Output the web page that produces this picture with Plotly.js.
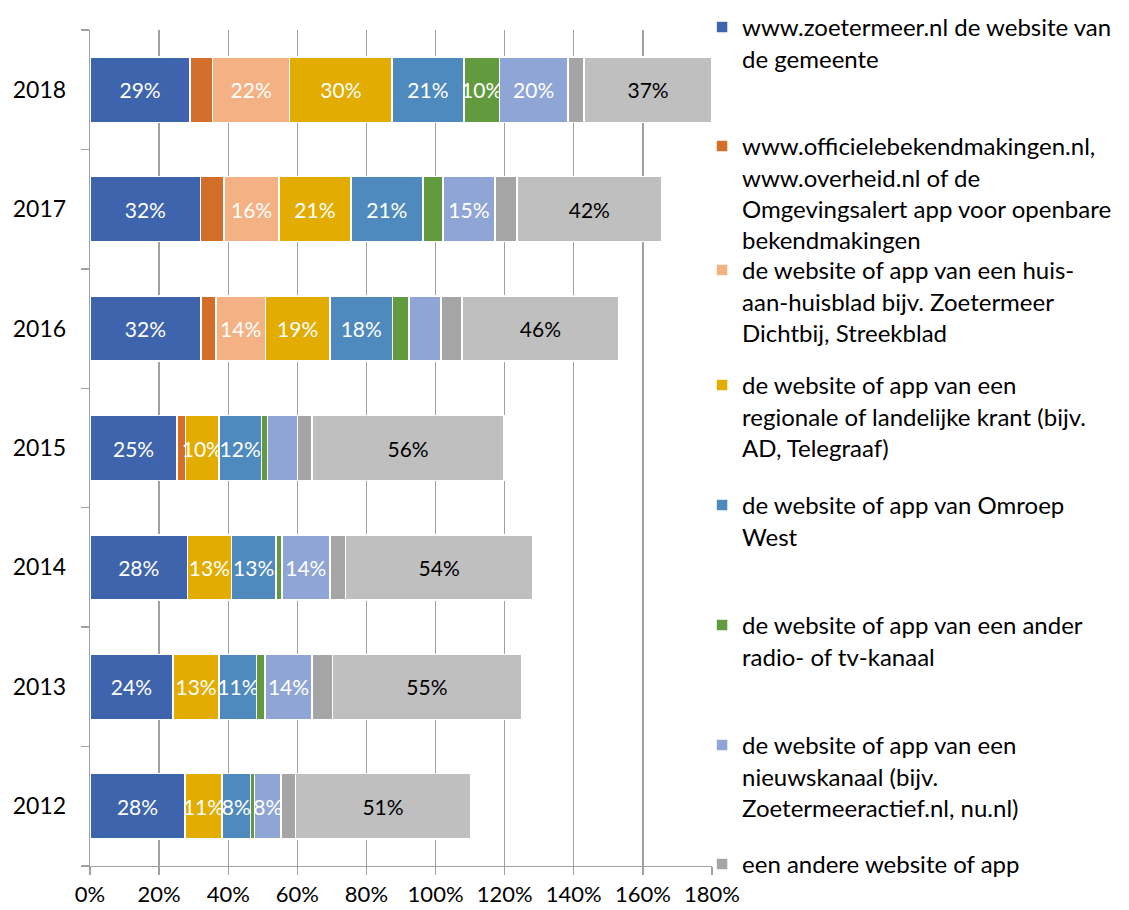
<!DOCTYPE html>
<html>
<head>
<meta charset="utf-8">
<script src="https://cdn.plot.ly/plotly-3.0.1.min.js"></script>
<style>html,body{margin:0;padding:0;background:#fff;}#chart{width:1129px;height:910px;}</style>
</head>
<body>
<div id="chart"></div>
<script>
// Categories (bottom to top)
const years = ['2012', '2013', '2014', '2015', '2016', '2017', '2018'];

// Series names (legend text)
const seriesNames = [
  'www.zoetermeer.nl de website van<br>de gemeente',
  'www.officielebekendmakingen.nl,<br>www.overheid.nl of de<br>Omgevingsalert app voor openbare<br>bekendmakingen',
  'de website of app van een huis-<br>aan-huisblad bijv. Zoetermeer<br>Dichtbij, Streekblad',
  'de website of app van een<br>regionale of landelijke krant (bijv.<br>AD, Telegraaf)',
  'de website of app van Omroep<br>West',
  'de website of app van een ander<br>radio- of tv-kanaal',
  'de website of app van een<br>nieuwskanaal (bijv.<br>Zoetermeeractief.nl, nu.nl)',
  'een andere website of app',
  'overig'
];

// Values in % (2012 ... 2018)
const zoetermeer     = [27.5, 24.0, 28.2, 25.2, 32.1, 32.0, 29.0];
const officieel      = [0, 0, 0, 2.5, 4.3, 6.8, 6.5];
const huisAanHuis    = [0, 0, 0, 0, 14.4, 15.9, 22.3];
const krant          = [10.7, 13.4, 12.7, 9.6, 18.6, 20.8, 29.6];
const omroepWest     = [8.3, 10.8, 12.9, 12.3, 18.2, 20.8, 20.8];
const anderRadioTv   = [1.1, 2.4, 1.7, 1.8, 4.7, 5.8, 10.3];
const nieuwskanaal   = [7.7, 13.7, 13.9, 8.7, 9.3, 15.1, 19.8];
const andereWebsite  = [4.2, 5.9, 4.6, 4.2, 6.0, 6.3, 4.7];
const overig         = [50.6, 54.6, 54.1, 55.5, 45.5, 42.0, 37.0];

// Which values carry a data label (1 = shown), 2012 ... 2018
const lblZoetermeer    = [1, 1, 1, 1, 1, 1, 1];
const lblOfficieel     = [0, 0, 0, 0, 0, 0, 0];
const lblHuisAanHuis   = [0, 0, 0, 0, 1, 1, 1];
const lblKrant         = [1, 1, 1, 1, 1, 1, 1];
const lblOmroepWest    = [1, 1, 1, 1, 1, 1, 1];
const lblAnderRadioTv  = [0, 0, 0, 0, 0, 0, 1];
const lblNieuwskanaal  = [1, 1, 1, 0, 0, 1, 1];
const lblAndereWebsite = [0, 0, 0, 0, 0, 0, 0];
const lblOverig        = [1, 1, 1, 1, 1, 1, 1];

const seriesValues = [zoetermeer, officieel, huisAanHuis, krant, omroepWest, anderRadioTv, nieuwskanaal, andereWebsite, overig];
const seriesLabels = [lblZoetermeer, lblOfficieel, lblHuisAanHuis, lblKrant, lblOmroepWest, lblAnderRadioTv, lblNieuwskanaal, lblAndereWebsite, lblOverig];
const colors = ['#3D64AD', '#D46E2B', '#F4B183', '#E2AC00', '#4F8ABE', '#629A3F', '#8FA5D6', '#A5A5A5', '#BFBFBF'];
const labelColors = ['#FFFFFF', '#FFFFFF', '#FFFFFF', '#FFFFFF', '#FFFFFF', '#FFFFFF', '#FFFFFF', '#FFFFFF', '#000000'];

const FONT = 'Lato, "Open Sans", sans-serif';
const FS_Y = 23;     // category labels
const FS_X = 22;     // value axis labels
const FS_LBL = 21;   // data labels
const FS_LEG = 24;   // legend

// Legend top positions (pixel rows of first text line) converted to paper coords
const plotTop = 30, plotBottom = 866;
const legendRows = [27, 146, 270, 385, 505, 625, 745, 864];
function pyToPaper(py) { return (plotBottom - py) / (plotBottom - plotTop); }

const traces = seriesValues.map((vals, i) => {
  const t = {
    type: 'bar',
    orientation: 'h',
    name: seriesNames[i],
    y: years,
    x: vals,
    marker: { color: colors[i], line: { color: '#FFFFFF', width: 1.5 } },
    text: vals.map((v, j) => seriesLabels[i][j] ? Math.round(v) + '%' : ''),
    textposition: 'inside',
    insidetextanchor: 'middle',
    textangle: 0,
    constraintext: 'none',
    cliponaxis: false,
    textfont: { family: FONT, size: FS_LBL, color: labelColors[i] },
    hoverinfo: 'x+y+name'
  };
  if (i < 8) {
    t.legend = i === 0 ? 'legend' : 'legend' + (i + 1);
    t.showlegend = true;
  } else {
    t.showlegend = false;
  }
  return t;
});

const layout = {
  width: 1129,
  height: 910,
  margin: { l: 90, r: 417, t: plotTop, b: 910 - plotBottom, pad: 0, autoexpand: false },
  paper_bgcolor: '#FFFFFF',
  plot_bgcolor: '#FFFFFF',
  barmode: 'stack',
  bargap: 0.455,
  font: { family: FONT, size: FS_Y, color: '#000000' },
  xaxis: {
    range: [0, 180],
    dtick: 20,
    tick0: 0,
    ticksuffix: '%',
    showgrid: true,
    gridcolor: '#A0A0A0',
    gridwidth: 1.3,
    zeroline: false,
    showline: true,
    linecolor: '#A0A0A0',
    linewidth: 1.3,
    ticks: 'outside',
    ticklen: 8,
    tickwidth: 1.3,
    tickcolor: '#A0A0A0',
    ticklabelstandoff: 0,
    tickfont: { family: FONT, size: FS_X, color: '#000000' },
    automargin: false,
    fixedrange: true
  },
  yaxis: {
    type: 'category',
    categoryorder: 'array',
    categoryarray: years,
    showgrid: false,
    zeroline: false,
    showline: true,
    linecolor: '#A0A0A0',
    linewidth: 1.3,
    ticks: 'outside',
    tickson: 'boundaries',
    ticklen: 8,
    tickwidth: 1.3,
    tickcolor: '#A0A0A0',
    ticklabelstandoff: 18,
    tickfont: { family: FONT, size: FS_Y, color: '#000000' },
    automargin: false,
    fixedrange: true
  },
  showlegend: true
};

legendRows.forEach((row, i) => {
  const key = i === 0 ? 'legend' : 'legend' + (i + 1);
  layout[key] = {
    x: 0.984,
    xanchor: 'left',
    y: pyToPaper(row - 22),
    yanchor: 'top',
    valign: 'top',
    bgcolor: 'rgba(0,0,0,0)',
    borderwidth: 0,
    itemwidth: 30,
    font: { family: FONT, size: FS_LEG, color: '#000000' },
    traceorder: 'normal'
  };
});

Plotly.newPlot('chart', traces, layout, { displayModeBar: false, staticPlot: true });
</script>
</body>
</html>
